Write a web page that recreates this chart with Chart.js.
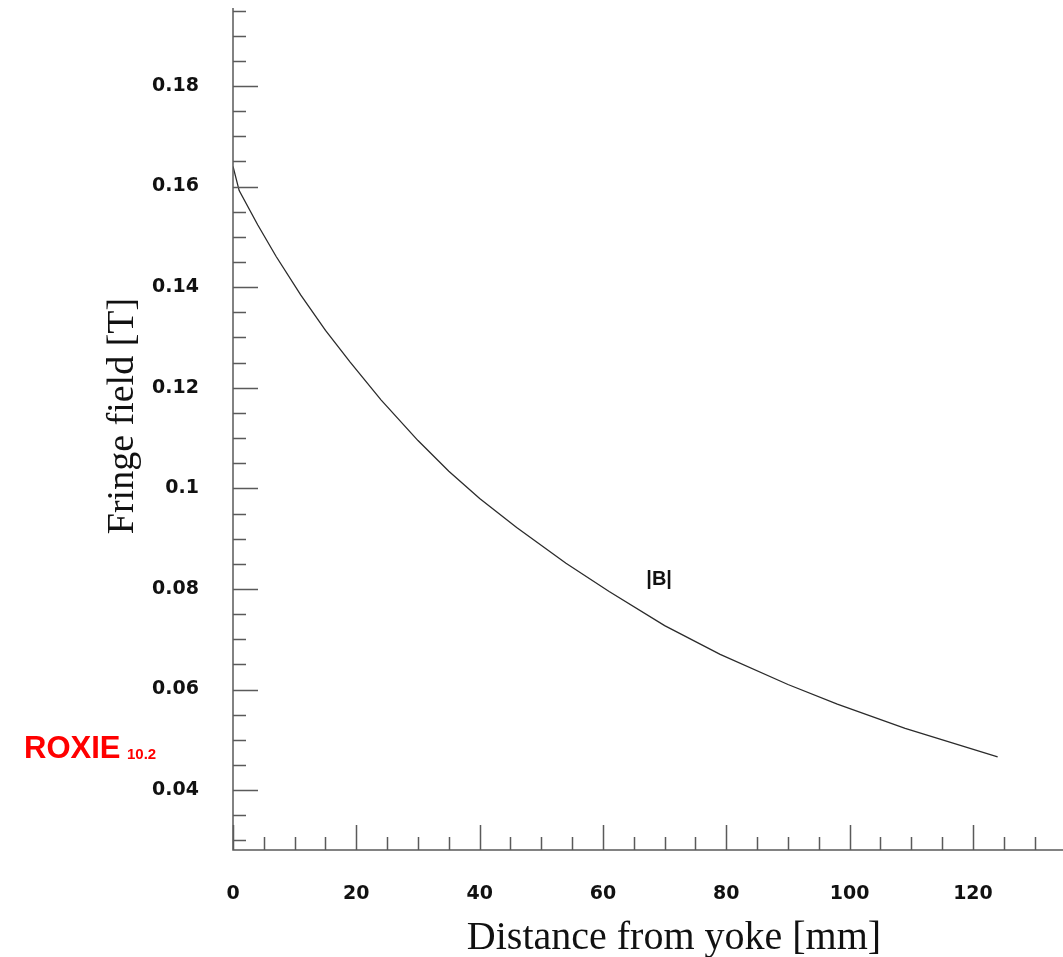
<!DOCTYPE html>
<html>
<head>
<meta charset="utf-8">
<title>Fringe field</title>
<script src="https://cdn.jsdelivr.net/npm/chart.js@4.4.1/dist/chart.umd.min.js"></script>
<style>
  html, body { margin: 0; padding: 0; background: #fff; }
  canvas { display: block; }
</style>
</head>
<body>
<canvas id="fieldChart" width="1063" height="957"></canvas>
<script>
// distance from the yoke [mm] and |B| [T]
const distance = [0, 1, 4, 7, 11, 15, 19, 24, 30, 35, 40, 46, 54, 61, 70, 79, 90, 98, 109, 124];
const fieldB = [0.1640, 0.1592, 0.1524, 0.1461, 0.1384, 0.1314, 0.1251, 0.1176, 0.1095, 0.1034,
  0.0980, 0.0922, 0.0851, 0.0795, 0.0727, 0.0670, 0.0610, 0.0571, 0.0523, 0.0466];

const xTickLabels = ['0', '20', '40', '60', '80', '100', '120'];
const yTickLabels = ['0.04', '0.06', '0.08', '0.1', '0.12', '0.14', '0.16', '0.18'];
const xMinorStep = 5;
const yMinorStep = 0.005;
const xRange = [0, 134.6];
const yRange = [0.0281, 0.1955];

const AXIS_COLOR = '#5a5a5a';
const tickFont = { family: '"DejaVu Sans", Arial, sans-serif', size: 19, weight: 'bold' };

function stepTicks(min, max, step, digits) {
  const ticks = [];
  for (let k = Math.ceil(min / step - 1e-9); k * step <= max + 1e-9; k++) {
    ticks.push({ value: +(k * step).toFixed(digits) });
  }
  return ticks;
}

function isMajor(scale, value) {
  if (scale.axis === 'x') return xTickLabels.includes(String(value));
  return yTickLabels.includes(String(+value.toFixed(3)));
}

// no extra room for half-labels at the ends of the axes
function noEdgePadding(scale) {
  scale.paddingTop = 0;
  scale.paddingBottom = 0;
  scale.paddingLeft = 0;
  scale.paddingRight = 0;
}

// ROOT-style frame: axis lines with ticks pointing into the plot, plus the text
const frameAndText = {
  id: 'frameAndText',
  afterDatasetsDraw(chart) {
    const { ctx, chartArea, scales } = chart;
    const { left, right, top, bottom } = chartArea;
    ctx.save();
    ctx.strokeStyle = AXIS_COLOR;
    ctx.lineWidth = 1.5;

    ctx.beginPath();
    ctx.moveTo(left, top);
    ctx.lineTo(left, bottom);
    ctx.lineTo(right, bottom);
    ctx.stroke();

    ctx.beginPath();
    scales.y.ticks.forEach((t) => {
      const y = Math.round(scales.y.getPixelForValue(t.value)) + 0.5;
      const len = isMajor(scales.y, t.value) ? 25 : 13;
      ctx.moveTo(left, y);
      ctx.lineTo(left + len, y);
    });
    scales.x.ticks.forEach((t) => {
      const x = Math.round(scales.x.getPixelForValue(t.value)) + 0.5;
      const len = isMajor(scales.x, t.value) ? 25 : 13;
      ctx.moveTo(x, bottom);
      ctx.lineTo(x, bottom - len);
    });
    ctx.stroke();

    // curve label
    ctx.fillStyle = '#111';
    ctx.font = 'bold 20px "Liberation Sans", Arial, sans-serif';
    ctx.textAlign = 'center';
    ctx.textBaseline = 'middle';
    ctx.fillText('|B|', scales.x.getPixelForValue(69.1), scales.y.getPixelForValue(0.0819));

    // axis titles
    ctx.textBaseline = 'alphabetic';
    ctx.font = '40px "Liberation Serif", "Times New Roman", serif';
    ctx.fillText('Distance from yoke [mm]', 674, 949);
    ctx.save();
    ctx.font = '38px "Liberation Serif", "Times New Roman", serif';
    ctx.translate(133, 416);
    ctx.rotate(-Math.PI / 2);
    ctx.fillText('Fringe field [T]', 0, 0);
    ctx.restore();

    // program tag
    ctx.fillStyle = '#ff0000';
    ctx.textAlign = 'left';
    ctx.font = 'bold 31px "Liberation Sans", Arial, sans-serif';
    ctx.fillText('ROXIE', 24, 758);
    ctx.font = 'bold 15px "Liberation Sans", Arial, sans-serif';
    ctx.fillText('10.2', 127, 759);
    ctx.restore();
  }
};

new Chart(document.getElementById('fieldChart'), {
  type: 'line',
  data: {
    datasets: [{
      label: '|B|',
      data: distance.map((d, i) => ({ x: d, y: fieldB[i] })),
      borderColor: '#2b2b2b',
      borderWidth: 1.3,
      pointRadius: 0,
      tension: 0,
      fill: false
    }]
  },
  options: {
    responsive: false,
    animation: false,
    layout: { padding: { top: 8, left: 0, right: 0, bottom: 0 } },
    plugins: {
      legend: { display: false },
      tooltip: { enabled: false }
    },
    scales: {
      x: {
        type: 'linear',
        min: xRange[0],
        max: xRange[1],
        afterBuildTicks: (scale) => { scale.ticks = stepTicks(xRange[0], xRange[1], xMinorStep, 0); },
        afterFit: (scale) => { scale.height = 107; noEdgePadding(scale); },
        grid: { display: false, drawTicks: false },
        border: { display: false },
        ticks: {
          autoSkip: false,
          maxRotation: 0,
          padding: 33,
          color: '#111',
          font: tickFont,
          callback: (value) => (xTickLabels.includes(String(value)) ? String(value) : '')
        }
      },
      y: {
        type: 'linear',
        min: yRange[0],
        max: yRange[1],
        afterBuildTicks: (scale) => { scale.ticks = stepTicks(yRange[0], yRange[1], yMinorStep, 4); },
        afterFit: (scale) => { scale.width = 233; noEdgePadding(scale); },
        grid: { display: false, drawTicks: false },
        border: { display: false },
        ticks: {
          autoSkip: false,
          padding: 34,
          color: '#111',
          font: tickFont,
          callback: (value) => {
            const s = String(+value.toFixed(3));
            return yTickLabels.includes(s) ? s : '';
          }
        }
      }
    }
  },
  plugins: [frameAndText]
});
</script>
</body>
</html>
